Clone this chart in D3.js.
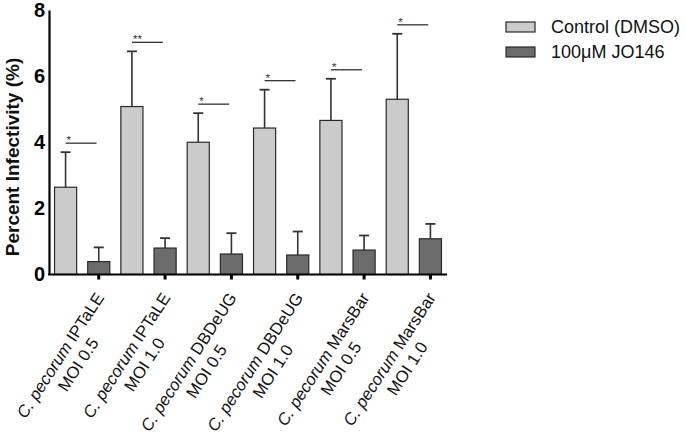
<!DOCTYPE html>
<html><head><meta charset="utf-8">
<script src="https://cdn.jsdelivr.net/npm/d3@7"></script>
<style>body{margin:0;background:#fff}svg{display:block}text{font-family:"Liberation Sans",Arial,sans-serif}</style>
</head><body>
<svg id="c" width="685" height="435"></svg>
<script>
const strains = ["IPTaLE","IPTaLE","DBDeUG","DBDeUG","MarsBar","MarsBar"];
const mois = ["MOI 0.5","MOI 1.0","MOI 0.5","MOI 1.0","MOI 0.5","MOI 1.0"];
const categories = strains.map((s,i)=>s+" "+mois[i]);
const seriesNames = ["Control (DMSO)","100\u03BCM JO146"];
const controlMean = [2.64,5.08,4.00,4.43,4.66,5.30];
const controlErr  = [1.06,1.67,0.88,1.16,1.26,1.98];
const drugMean    = [0.39,0.80,0.62,0.59,0.74,1.08];
const drugErr     = [0.43,0.30,0.63,0.71,0.44,0.45];
const stars = ["*","**","*","*","*","*"];
const yTicks = [0,2,4,6,8];

const svg = d3.select("#c");
const L=49, R=447, T=10, B=274.5;
const colors = ["#cbcbcb","#6c6c6c"];

const y = d3.scaleLinear().domain([0,8]).range([B,T]);
const x0 = d3.scaleBand().domain(categories).range([L,R]).padding(0);
const x1 = d3.scaleBand().domain([0,1]).range([0,x0.bandwidth()]).paddingInner(1/3).paddingOuter(1/6);
const bw = x1.bandwidth();

const data = categories.map((c,i)=>({c,i,vals:[
  {s:0,m:controlMean[i],e:controlErr[i]},
  {s:1,m:drugMean[i],e:drugErr[i]}]}));

// bars
const g = svg.append("g");
data.forEach(d=>{
  d.vals.forEach(v=>{
    const bx = x0(d.c)+x1(v.s);
    g.append("rect").attr("x",bx).attr("y",y(v.m)).attr("width",bw).attr("height",y(0)-y(v.m))
      .attr("fill",colors[v.s]).attr("stroke","#2a2a2a").attr("stroke-width",1.2);
    const cx = bx+bw/2, top=y(v.m+v.e);
    g.append("line").attr("x1",cx).attr("x2",cx).attr("y1",y(v.m)).attr("y2",top).attr("stroke","#333").attr("stroke-width",1.6);
    g.append("line").attr("x1",cx-5).attr("x2",cx+5).attr("y1",top).attr("y2",top).attr("stroke","#333").attr("stroke-width",1.8);
  });
  // significance
  const lx = x0(d.c)+x1(0)+bw/2;
  const ly = y(d.vals[0].m+d.vals[0].e)-9;
  g.append("line").attr("x1",lx).attr("x2",lx+31).attr("y1",ly).attr("y2",ly).attr("stroke","#333").attr("stroke-width",1.3);
  g.append("text").attr("x",lx+1).attr("y",ly+1).attr("font-size",11.5).attr("fill","#333").text(stars[d.i]);
});

// y axis
const ya = svg.append("g").attr("transform",`translate(${L},0)`)
  .call(d3.axisLeft(y).tickValues(yTicks).tickSize(0).tickPadding(4).tickFormat(d3.format("d")));
ya.select(".domain").attr("stroke","#000").attr("stroke-width",2.2);
ya.selectAll("text").attr("font-size",20).attr("font-weight","bold").attr("fill","#000")
  .style("font-family",'"Liberation Sans",Arial,sans-serif');

// x axis
const xt = d3.scaleBand().domain(categories).range([L+x1(1)+bw/2-x0.bandwidth()/2, R+x1(1)+bw/2-x0.bandwidth()/2]).padding(0);
const xa = svg.append("g").attr("transform",`translate(0,${B})`)
  .call(d3.axisBottom(xt).tickSize(5).tickFormat(""));
xa.select(".domain").remove();
xa.selectAll(".tick line").attr("stroke","#000").attr("stroke-width",3);
svg.append("line").attr("x1",L-1).attr("x2",R).attr("y1",B).attr("y2",B).attr("stroke","#000").attr("stroke-width",2.2);

// x labels
categories.forEach((c,i)=>{
  const tx = xt(c)+xt.bandwidth()/2;
  const lg = svg.append("g").attr("transform",`translate(${tx+6},${B+23}) rotate(-57)`);
  const t1 = lg.append("text").attr("text-anchor","end").attr("font-size",16.8).attr("fill","#111");
  t1.append("tspan").attr("font-style","italic").text("C. pecorum");
  t1.append("tspan").text(" "+strains[i]);
  const w = t1.node().getComputedTextLength();
  lg.append("text").attr("text-anchor","middle").attr("x",-w/2+2).attr("y",20).attr("font-size",16.8).attr("fill","#111").text(mois[i]);
});

// y label
svg.append("text").attr("transform",`translate(19,157) rotate(-90)`).attr("text-anchor","middle")
  .attr("font-size",19).attr("font-weight","bold").attr("fill","#111").text("Percent Infectivity (%)");

// legend
const leg = svg.append("g");
seriesNames.forEach((s,i)=>{
  leg.append("rect").attr("x",506).attr("y",22+i*25).attr("width",29).attr("height",10)
    .attr("fill",colors[i]).attr("stroke","#2a2a2a").attr("stroke-width",1.2);
  leg.append("text").attr("x",551).attr("y",33+i*25).attr("font-size",18).attr("fill","#111").text(s);
});
</script>
</body></html>
